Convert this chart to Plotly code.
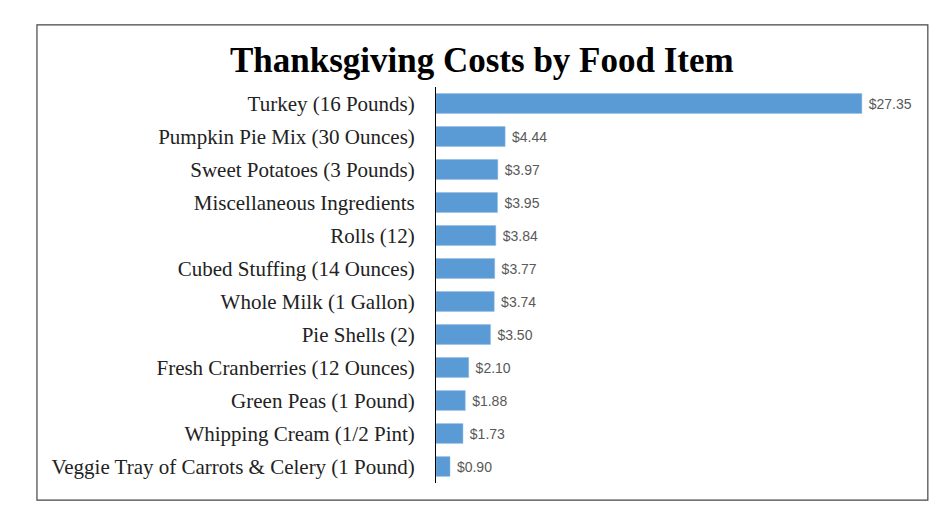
import plotly.graph_objects as go

# food items, top to bottom as shown
items = [
    "Turkey (16 Pounds)",
    "Pumpkin Pie Mix (30 Ounces)",
    "Sweet Potatoes (3 Pounds)",
    "Miscellaneous Ingredients",
    "Rolls (12)",
    "Cubed Stuffing (14 Ounces)",
    "Whole Milk (1 Gallon)",
    "Pie Shells (2)",
    "Fresh Cranberries (12 Ounces)",
    "Green Peas (1 Pound)",
    "Whipping Cream (1/2 Pint)",
    "Veggie Tray of Carrots & Celery (1 Pound)",
]
costs = [27.35, 4.44, 3.97, 3.95, 3.84, 3.77, 3.74, 3.50, 2.10, 1.88, 1.73, 0.90]

title_text = "Thanksgiving Costs by Food Item"

fig = go.Figure()
fig.add_trace(go.Bar(
    x=costs,
    y=items,
    orientation="h",
    marker=dict(color="#5B9BD5", line=dict(color="#8FB9E3", width=0.5)),
    text=[f" ${c:.2f}" for c in costs],
    textposition="outside",
    textfont=dict(family="Liberation Sans", size=14, color="#595959"),
    cliponaxis=False,
    hoverinfo="skip",
))

# outer frame around the whole chart
fig.add_shape(type="rect", xref="paper", yref="paper",
              x0=-0.86, x1=1.06, y0=-0.043, y1=1.157,
              line=dict(color="#444444", width=1.2), fillcolor="rgba(0,0,0,0)")

# page body adds 8px margin, so figure is 8px smaller than window
fig.update_layout(
    width=942,
    height=511,
    margin=dict(l=428, r=50, t=79, b=36),
    paper_bgcolor="white",
    plot_bgcolor="white",
    showlegend=False,
    bargap=0.4,
    title=dict(text="<b>" + title_text + "</b>", x=0.503, xanchor="center",
               y=1 - 52 / 511, yanchor="middle",
               font=dict(family="Liberation Serif", size=35, color="black")),
)
fig.update_xaxes(range=[0, 29.8], showgrid=False, zeroline=False,
                 showticklabels=False, showline=False, ticks="")
fig.update_yaxes(autorange="reversed", showgrid=False, showline=True,
                 linecolor="black", linewidth=1, ticks="", ticklabelstandoff=16,
                 tickfont=dict(family="Liberation Serif", size=21, color="#222222"))

fig.write_html("out.html")
